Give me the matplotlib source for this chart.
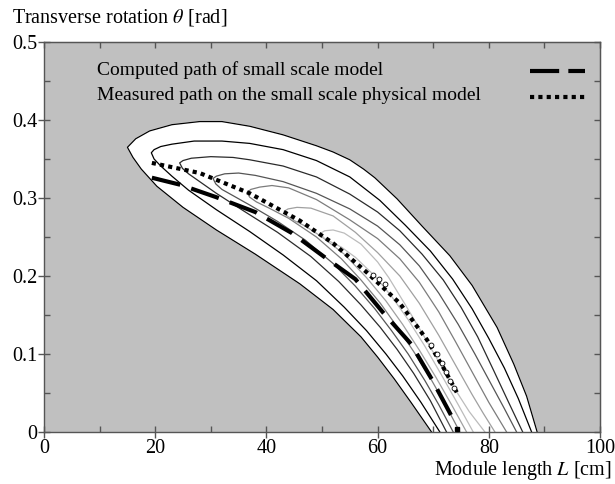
import numpy as np
import matplotlib
matplotlib.use('Agg')
from matplotlib import pyplot as plt
from matplotlib.ticker import MultipleLocator

plt.rcParams['font.family'] = ['Liberation Serif', 'DejaVu Serif']
plt.rcParams['mathtext.fontset'] = 'stix'

# contour branches, (L [cm], theta [rad]); lower branches start at the tip
c0_lower = [(15, 0.365), (16, 0.352), (17.5, 0.337), (20.3, 0.315), (25, 0.288), (31, 0.259), (38, 0.228),
            (46, 0.19), (52, 0.157), (57, 0.122), (60, 0.096), (63, 0.068), (66, 0.038), (69.7, 0)]
c0_upper = [(16.5, 0.376), (19, 0.386), (23, 0.394), (28, 0.398), (32, 0.398), (37, 0.392), (43, 0.381),
            (49, 0.367), (52, 0.359), (55, 0.349), (57.5, 0.337), (59.5, 0.326), (63.5, 0.299), (68, 0.264),
            (73, 0.226), (77, 0.188), (81.5, 0.134), (84.5, 0.087), (86.8, 0.046), (88.7, 0)]
c1_lower = [(19.3, 0.358), (19.8, 0.35), (21, 0.341), (23, 0.328), (26, 0.31), (31, 0.285), (37, 0.257),
            (43, 0.227), (49, 0.194), (54, 0.16), (58, 0.13), (61.5, 0.1), (64.5, 0.072), (67.8, 0.038),
            (71.2, 0)]
c1_upper = [(19.8, 0.362), (21, 0.366), (23, 0.369), (27, 0.373), (32, 0.373), (37, 0.37), (43, 0.362),
            (49, 0.348), (55, 0.327), (60.4, 0.297), (65, 0.265), (69.5, 0.232), (73.5, 0.196), (77, 0.158),
            (80, 0.12), (82.8, 0.082), (85.3, 0.043), (87.7, 0)]
c2_lower = [(24.4, 0.345), (24.9, 0.338), (26, 0.331), (28, 0.321), (31, 0.306), (36, 0.283), (42, 0.256),
            (48, 0.225), (53, 0.193), (57, 0.163), (60.5, 0.134), (63.5, 0.106), (66.5, 0.075), (69.5, 0.04),
            (72.4, 0)]
c2_upper = [(25, 0.348), (26.5, 0.351), (30, 0.353), (34, 0.352), (37, 0.349), (43, 0.341), (49, 0.327),
            (55, 0.305), (60, 0.282), (64, 0.258), (68, 0.228), (71.8, 0.195), (75, 0.16), (78, 0.122),
            (80.8, 0.08), (83.5, 0.039), (86.1, 0)]
c3_lower = [(30.4, 0.325), (30.9, 0.318), (32, 0.311), (34, 0.303), (37, 0.291), (42, 0.27), (47, 0.246),
            (52, 0.216), (56, 0.187), (59.5, 0.158), (62.5, 0.13), (65.5, 0.1), (68.5, 0.066), (71, 0.035),
            (73.6, 0)]
c3_upper = [(31, 0.328), (32.5, 0.331), (35, 0.332), (38, 0.329), (43, 0.321), (49, 0.306), (55, 0.286),
            (60, 0.264), (64, 0.24), (67.5, 0.213), (71, 0.178), (74.5, 0.138), (77.5, 0.1), (80.3, 0.063),
            (82.8, 0.03), (85, 0)]
c4_lower = [(36.5, 0.307), (37, 0.301), (38.2, 0.295), (40.5, 0.287), (44, 0.274), (49, 0.25), (53.5, 0.222),
            (57, 0.195), (60.5, 0.165), (63.5, 0.135), (66.5, 0.103), (69.5, 0.069), (72.2, 0.035), (74.8, 0)]
c4_upper = [(37.2, 0.311), (38.8, 0.314), (41, 0.316), (44, 0.313), (49, 0.298), (55, 0.272), (60, 0.248),
            (64, 0.222), (67.5, 0.192), (71, 0.154), (74, 0.116), (77, 0.077), (80, 0.038), (83.2, 0)]
c5_lower = [(43.2, 0.283), (43.7, 0.277), (45, 0.271), (47, 0.264), (50, 0.25), (54, 0.228), (58, 0.198),
            (61.5, 0.168), (64.5, 0.138), (67.5, 0.105), (70.5, 0.07), (73.3, 0.035), (76, 0)]
c5_upper = [(43.9, 0.286), (45.5, 0.288), (48, 0.287), (52, 0.277), (56, 0.256), (60, 0.23), (64, 0.2),
            (67.5, 0.165), (71, 0.124), (74, 0.086), (77, 0.048), (79, 0.024), (81.1, 0)]
c6_lower = [(49.8, 0.255), (50.3, 0.249), (51.5, 0.244), (53.5, 0.237), (56, 0.224), (59.5, 0.2),
            (62.5, 0.174), (65.5, 0.144), (68.5, 0.11), (71.5, 0.073), (74.5, 0.035), (77.2, 0)]
c6_upper = [(50.5, 0.258), (52, 0.259), (54, 0.255), (57, 0.241), (60, 0.218), (62, 0.198), (65, 0.163),
            (68, 0.127), (71, 0.09), (74, 0.054), (76.5, 0.026), (79.3, 0)]

contour_colors = ['#000000', '#000000', '#2a2a2a', '#555555', '#7c7c7c', '#a0a0a0', '#bcbcbc']

# computed path (dashed) and measured path (dotted)
computed_L = [19.4, 24.5, 31, 38, 44.6, 50.5, 56, 61, 66, 69.8, 73.4]
computed_t = [0.326, 0.317, 0.301, 0.282, 0.255, 0.224, 0.196, 0.153, 0.113, 0.067, 0.019]
measured_L = [19.4, 28, 37, 46, 52, 58, 64, 68.9, 71.8, 74.3]
measured_t = [0.345, 0.332, 0.306, 0.271, 0.242, 0.205, 0.165, 0.118, 0.083, 0.05]
circles_L = [59.2, 60.3, 61.4, 69.6, 70.6, 71.5, 72.3, 73.0, 73.7]
circles_t = [0.201, 0.196, 0.19, 0.112, 0.1, 0.088, 0.077, 0.066, 0.056]
end_L = [74.3]
end_t = [0.004]

legend_labels = ['Computed path of small scale model',
                 'Measured path on the small scale physical model']


def branch_path(lower, upper):
    pts = lower[::-1] + upper
    return np.array([p[0] for p in pts]), np.array([p[1] for p in pts])


fig = plt.figure(figsize=(6.15, 4.84), dpi=100)
ax = fig.add_axes([44 / 615, 52 / 484, 556 / 615, 390 / 484])
ax.set_facecolor('#c0c0c0')

contours = [(c0_lower, c0_upper), (c1_lower, c1_upper), (c2_lower, c2_upper), (c3_lower, c3_upper),
            (c4_lower, c4_upper), (c5_lower, c5_upper), (c6_lower, c6_upper)]

x0, y0 = branch_path(*contours[0])
ax.fill(x0, y0, color='white', zorder=1)
for (lo, up), col in zip(contours, contour_colors):
    xs, ys = branch_path(lo, up)
    ax.plot(xs, ys, color=col, lw=0.9, zorder=2, solid_joinstyle='round')

ax.plot(computed_L, computed_t, color='black', lw=3, dashes=(7, 2.8), dash_capstyle='butt', zorder=4)
ax.plot(measured_L, measured_t, color='black', lw=3, dashes=(1, 1), dash_capstyle='butt', zorder=4)
ax.plot(circles_L, circles_t, ls='none', marker='o', ms=3.5, mfc='white', mec='black', mew=0.6, zorder=5)
ax.plot(end_L, end_t, ls='none', marker='s', ms=3, color='black', zorder=5)

# legend drawn by hand: text on the left, samples at the right
ax.text(0.095, 0.928, legend_labels[0], transform=ax.transAxes, fontsize=14, va='center', ha='left')
ax.text(0.095, 0.862, legend_labels[1], transform=ax.transAxes, fontsize=14, va='center', ha='left')
ax.plot([0.874, 0.973], [0.925, 0.925], transform=ax.transAxes, color='black', lw=3,
        dashes=(7, 2.2), dash_capstyle='butt')
ax.plot([0.874, 0.973], [0.86, 0.86], transform=ax.transAxes, color='black', lw=3,
        dashes=(1, 1), dash_capstyle='butt')

ax.set_xlim(0, 100)
ax.set_ylim(0, 0.5)
ax.xaxis.set_major_locator(MultipleLocator(20))
ax.xaxis.set_minor_locator(MultipleLocator(10))
ax.yaxis.set_major_locator(MultipleLocator(0.1))
ax.yaxis.set_minor_locator(MultipleLocator(0.05))
ax.yaxis.set_major_formatter(plt.FuncFormatter(lambda v, p: '0' if v == 0 else f'{v:.1f}'))
ax.tick_params(which='major', direction='inout', length=9, width=1, color='#555555', labelsize=14.5, pad=0.5)
ax.tick_params(which='minor', direction='in', length=4, width=1, color='#555555')
ax.tick_params(top=False, right=False)

for s in ax.spines.values():
    s.set_color('#555555')
    s.set_linewidth(1)

sec_x = ax.secondary_xaxis('top')
sec_x.set_xticks(np.arange(0, 101, 10))
sec_x.set_xticklabels([])
sec_x.tick_params(direction='in', length=4, width=1, color='#555555')
sec_x.spines['top'].set_color('#555555')
sec_y = ax.secondary_yaxis('right')
sec_y.set_yticks(np.arange(0, 0.51, 0.05))
sec_y.set_yticklabels([])
sec_y.tick_params(direction='in', length=4, width=1, color='#555555')
sec_y.spines['right'].set_color('#555555')

fig.text(12 / 615, 1 - 17 / 484, r'Transverse rotation $\theta$ [rad]', fontsize=14.5, ha='left', va='center')
fig.text(612 / 615, 1 - 471 / 484, r'Module length $L$ [cm]', fontsize=14.5, ha='right', va='center')

fig.savefig('out.png', dpi=100)
